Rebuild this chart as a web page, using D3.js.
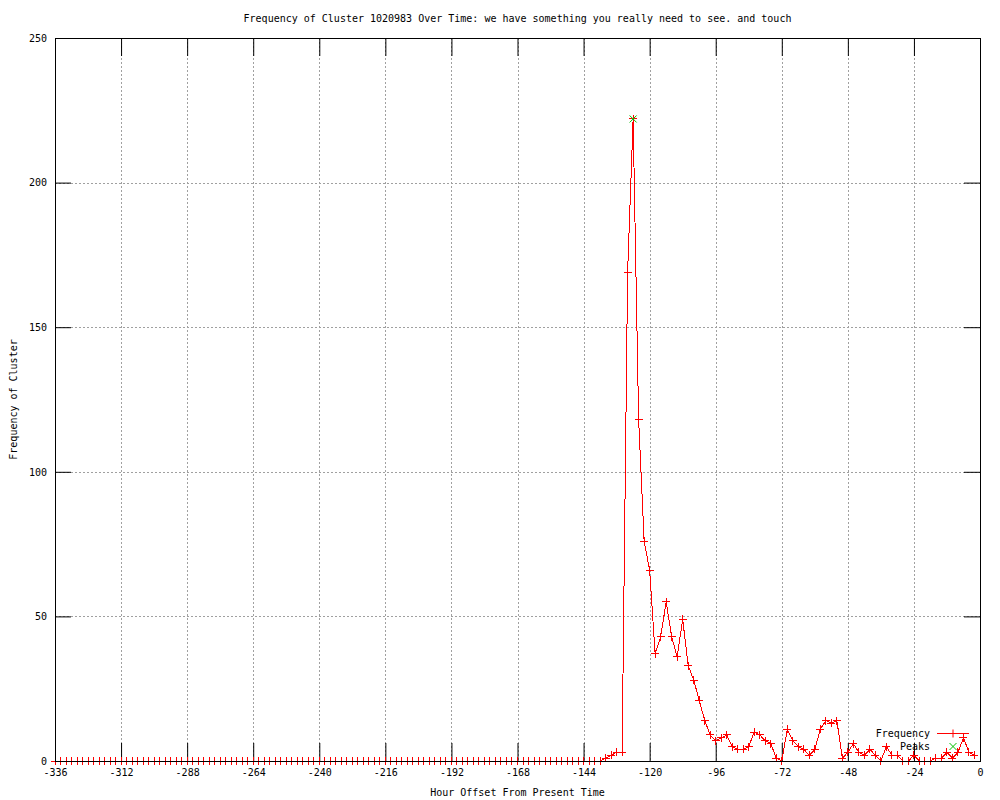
<!DOCTYPE html>
<html>
<head>
<meta charset="utf-8">
<script src="https://cdn.jsdelivr.net/npm/d3@7"></script>
<style>
  body { margin: 0; background: #fff; }
  text { font-family: "DejaVu Sans Mono", "Liberation Mono", monospace; font-size: 10px; fill: #000; }
</style>
</head>
<body>
<svg id="chart" width="1000" height="800"></svg>
<script>
// hour offsets (x categories)
var hours = [
  -336,-334,-332,-330,-328,-326,-324,-322,-320,-318,-316,-314,
  -312,-310,-308,-306,-304,-302,-300,-298,-296,-294,-292,-290,
  -288,-286,-284,-282,-280,-278,-276,-274,-272,-270,-268,-266,
  -264,-262,-260,-258,-256,-254,-252,-250,-248,-246,-244,-242,
  -240,-238,-236,-234,-232,-230,-228,-226,-224,-222,-220,-218,
  -216,-214,-212,-210,-208,-206,-204,-202,-200,-198,-196,-194,
  -192,-190,-188,-186,-184,-182,-180,-178,-176,-174,-172,-170,
  -168,-166,-164,-162,-160,-158,-156,-154,-152,-150,-148,-146,
  -144,-142,-140,-138,-136,-134,-132,-130,-128,-126,-124,-122,
  -120,-118,-116,-114,-112,-110,-108,-106,-104,-102,-100,-98,
  -96,-94,-92,-90,-88,-86,-84,-82,-80,-78,-76,-74,
  -72,-70,-68,-66,-64,-62,-60,-58,-56,-54,-52,-50,
  -48,-46,-44,-42,-40,-38,-36,-34,-32,-30,-28,-26,
  -24,-22,-20,-18,-16,-14,-12,-10,-8,-6,-4,-2
];

// frequency of cluster per hour offset
var frequency = [
  0,0,0,0,0,0,0,0,0,0,0,0,
  0,0,0,0,0,0,0,0,0,0,0,0,
  0,0,0,0,0,0,0,0,0,0,0,0,
  0,0,0,0,0,0,0,0,0,0,0,0,
  0,0,0,0,0,0,0,0,0,0,0,0,
  0,0,0,0,0,0,0,0,0,0,0,0,
  0,0,0,0,0,0,0,0,0,0,0,0,
  0,0,0,0,0,0,0,0,0,0,0,0,
  0,0,0,0,1,2,3,3,169,222,118,76,
  66,37,43,55,43,36,49,33,28,21,14,9,
  7,8,9,5,4,4,5,10,9,7,6,1,
  0,11,7,5,4,2,4,11,14,13,14,1,
  3,6,3,2,4,2,0,5,2,2,0,0,
  2,0,0,0,1,1,3,1,3,8,3,2
];

// detected peaks
var peakHours = [-126];
var peakValues = [222];

var xTicks = [-336,-312,-288,-264,-240,-216,-192,-168,-144,-120,-96,-72,-48,-24,0];
var yTicks = [0,50,100,150,200,250];

var margin = {top: 38, right: 20, bottom: 39, left: 55},
    width = 1000 - margin.left - margin.right,
    height = 800 - margin.top - margin.bottom;

var svg = d3.select('#chart');
var g = svg.append('g').attr('transform', 'translate(' + margin.left + ',' + margin.top + ')');

var x = d3.scaleLinear().domain([-336, 0]).range([0, width]);
var y = d3.scaleLinear().domain([0, 250]).range([height, 0]);

var data = hours.map(function(h, i) { return {hour: h, value: frequency[i]}; });
var peaks = peakHours.map(function(h, i) { return {hour: h, value: peakValues[i]}; });

var fmt = function(d) { return String(d); }; // plain hyphen minus like gnuplot

// grid (dotted grey)
g.selectAll('.gridx')
  .data(xTicks.filter(function(d) { return d > -336 && d < 0; }))
  .enter().append('line')
  .attr('x1', function(d) { return Math.round(x(d)) + 0.5; })
  .attr('x2', function(d) { return Math.round(x(d)) + 0.5; })
  .attr('y1', 0).attr('y2', height)
  .attr('stroke', '#a0a0a0').attr('stroke-dasharray', '2,2');

g.selectAll('.gridy')
  .data(yTicks.filter(function(d) { return d > 0 && d < 250; }))
  .enter().append('line')
  .attr('y1', function(d) { return Math.round(y(d)) + 0.5; })
  .attr('y2', function(d) { return Math.round(y(d)) + 0.5; })
  .attr('x1', 0).attr('x2', width)
  .attr('stroke', '#a0a0a0').attr('stroke-dasharray', '2,2');

// axes with inner ticks, mirrored on top and right
var tickLen = 18;
var xBottom = g.append('g').attr('transform', 'translate(0,' + height + ')')
  .call(d3.axisBottom(x).tickValues(xTicks).tickSize(-tickLen).tickPadding(8).tickFormat(fmt));
var xTop = g.append('g')
  .call(d3.axisTop(x).tickValues(xTicks).tickSize(-tickLen).tickFormat(''));
var yLeft = g.append('g')
  .call(d3.axisLeft(y).tickValues(yTicks).tickSize(-16).tickPadding(8).tickFormat(fmt));
var yRight = g.append('g').attr('transform', 'translate(' + width + ',0)')
  .call(d3.axisRight(y).tickValues(yTicks).tickSize(-16).tickFormat(''));

[xBottom, xTop, yLeft, yRight].forEach(function(a) {
  a.select('.domain').remove();
  a.selectAll('line').attr('stroke', '#000');
  a.selectAll('text').style('font-family', '"DejaVu Sans Mono", monospace').style('font-size', '10px');
});

// frequency line + markers (no antialiasing, gnuplot png look)
var line = d3.line()
  .x(function(d) { return x(d.hour); })
  .y(function(d) { return y(d.value); });

g.append('path')
  .datum(data)
  .attr('d', line)
  .attr('fill', 'none')
  .attr('stroke', '#ff0000')
  .attr('stroke-width', 1)
  .attr('shape-rendering', 'crispEdges');

var plus = 'M-4,0H4M0,-4V4';
var cross = 'M-3.5,-3.5L3.5,3.5M-3.5,3.5L3.5,-3.5';

g.selectAll('.pt')
  .data(data)
  .enter().append('path')
  .attr('class', 'pt')
  .attr('transform', function(d) { return 'translate(' + x(d.hour) + ',' + y(d.value) + ')'; })
  .attr('d', plus)
  .attr('stroke', '#ff0000')
  .attr('fill', 'none')
  .attr('shape-rendering', 'crispEdges');

g.selectAll('.peak')
  .data(peaks)
  .enter().append('path')
  .attr('class', 'peak')
  .attr('transform', function(d) { return 'translate(' + x(d.hour) + ',' + y(d.value) + ')'; })
  .attr('d', cross)
  .attr('stroke', '#00c000')
  .attr('fill', 'none');

// border
g.append('rect')
  .attr('x', 0.5).attr('y', 0.5)
  .attr('width', width).attr('height', height)
  .attr('fill', 'none').attr('stroke', '#000');

// legend
var legend = g.append('g').attr('transform', 'translate(' + (width - 50) + ',' + (height - 28) + ')');
legend.append('text').attr('x', 0).attr('y', 0).attr('dy', '0.35em').attr('text-anchor', 'end').text('Frequency');
legend.append('line').attr('x1', 7).attr('x2', 39).attr('y1', 0.5).attr('y2', 0.5).attr('stroke', '#ff0000');
legend.append('path').attr('transform', 'translate(23,0.5)').attr('d', plus).attr('stroke', '#ff0000');
legend.append('text').attr('x', 0).attr('y', 13).attr('dy', '0.35em').attr('text-anchor', 'end').text('Peaks');
legend.append('path').attr('transform', 'translate(23,13.5)').attr('d', cross).attr('stroke', '#00c000');

// title and axis labels
svg.append('text')
  .attr('x', margin.left + width / 2).attr('y', 18)
  .attr('text-anchor', 'middle').attr('dy', '0.35em')
  .text('Frequency of Cluster 1020983 Over Time: we have something you really need to see. and touch');

svg.append('text')
  .attr('x', margin.left + width / 2).attr('y', 792)
  .attr('text-anchor', 'middle').attr('dy', '0.35em')
  .text('Hour Offset From Present Time');

svg.append('text')
  .attr('transform', 'translate(13,' + (margin.top + height / 2) + ') rotate(-90)')
  .attr('text-anchor', 'middle').attr('dy', '0.35em')
  .text('Frequency of Cluster');
</script>
</body>
</html>
